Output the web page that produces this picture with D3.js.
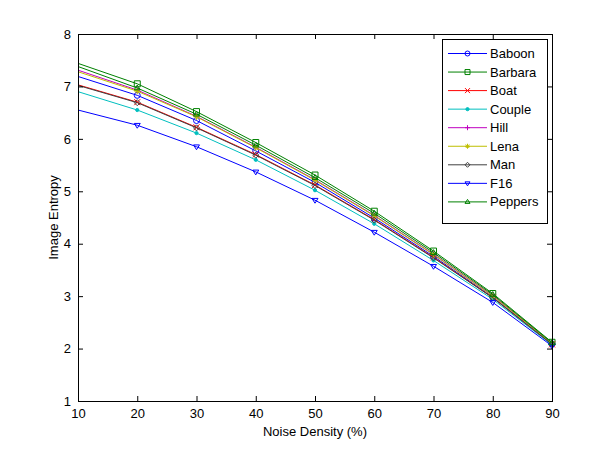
<!DOCTYPE html>
<html>
<head>
<meta charset="utf-8">
<script src="https://cdn.jsdelivr.net/npm/d3@7"></script>
<style>
  html, body { margin: 0; padding: 0; background: #fff; }
  svg { display: block; }
  text { font-family: "Liberation Sans", Arial, Helvetica, sans-serif; fill: #000; }
</style>
</head>
<body>
<svg id="chart" width="609" height="450"></svg>
<script>
// ---- data ----
const noiseDensity = [10, 20, 30, 40, 50, 60, 70, 80, 90];
const seriesNames = ["Baboon", "Barbara", "Boat", "Couple", "Hill", "Lena", "Man", "F16", "Peppers"];
const baboon  = [7.19, 6.83, 6.35, 5.77, 5.17, 4.49, 3.76, 2.98, 2.09];
const barbara = [7.44, 7.05, 6.52, 5.93, 5.31, 4.62, 3.86, 3.05, 2.12];
const boat    = [7.03, 6.70, 6.22, 5.70, 5.12, 4.46, 3.74, 2.97, 2.08];
const couple  = [6.90, 6.55, 6.11, 5.60, 5.02, 4.38, 3.68, 2.94, 2.07];
const hill    = [7.31, 6.93, 6.43, 5.84, 5.22, 4.54, 3.80, 3.01, 2.10];
const lena    = [7.28, 6.91, 6.42, 5.83, 5.21, 4.53, 3.79, 3.00, 2.10];
const man     = [7.02, 6.69, 6.21, 5.69, 5.11, 4.45, 3.73, 2.97, 2.08];
const f16     = [6.55, 6.26, 5.85, 5.37, 4.83, 4.22, 3.57, 2.88, 2.05];
const peppers = [7.38, 6.97, 6.47, 5.88, 5.26, 4.58, 3.83, 3.03, 2.11];
const xTicks = [10, 20, 30, 40, 50, 60, 70, 80, 90];
const yTicks = [1, 2, 3, 4, 5, 6, 7, 8];

const seriesValues = [baboon, barbara, boat, couple, hill, lena, man, f16, peppers];
const seriesColors = ["#0000ff", "#008000", "#ff0000", "#00bfbf", "#bf00bf", "#bfbf00", "#404040", "#0000ff", "#008000"];
const seriesMarkers = ["o", "s", "x", ".", "+", "*", "d", "v", "^"];

// ---- layout ----
const svg = d3.select("#chart");
const L = 78, R = 552, T = 34, B = 401;
const x = d3.scaleLinear().domain([10, 90]).range([L, R]);
const y = d3.scaleLinear().domain([1, 8]).range([B, T]);

// marker path generator (MATLAB-like, unfilled)
function markerPath(type, s) {
  const h = s / 2;
  switch (type) {
    case "o": return `M${h},0A${h},${h} 0 1,1 ${-h},0A${h},${h} 0 1,1 ${h},0Z`;
    case "s": return `M${-h},${-h}H${h}V${h}H${-h}Z`;
    case "x": return `M${-h},${-h}L${h},${h}M${-h},${h}L${h},${-h}`;
    case "+": return `M${-h},0H${h}M0,${-h}V${h}`;
    case "*": return `M${-h},0H${h}M0,${-h}V${h}M${-h*0.7},${-h*0.7}L${h*0.7},${h*0.7}M${-h*0.7},${h*0.7}L${h*0.7},${-h*0.7}`;
    case "d": return `M0,${-h}L${h},0L0,${h}L${-h},0Z`;
    case "v": return `M${-h},${-h*0.6}H${h}L0,${h}Z`;
    case "^": return `M${-h},${h*0.6}H${h}L0,${-h}Z`;
    case ".": return `M1.6,0A1.6,1.6 0 1,1 -1.6,0A1.6,1.6 0 1,1 1.6,0Z`;
  }
  return "";
}

// ---- axes box ----
svg.append("rect").attr("x", L).attr("y", T).attr("width", R - L).attr("height", B - T)
  .attr("fill", "#fff").attr("stroke", "none");

// ---- series ----
const line = d3.line().x((d, i) => x(noiseDensity[i])).y(d => y(d));
const gSeries = svg.append("g");
seriesValues.forEach((vals, k) => {
  const g = gSeries.append("g");
  g.append("path").attr("d", line(vals)).attr("fill", "none")
    .attr("stroke", seriesColors[k]).attr("stroke-width", 1);
  const pts = vals.map((d, i) => ({ v: d, xv: noiseDensity[i] })).slice(1);
  g.selectAll("path.m").data(pts).enter().append("path").attr("class", "m")
    .attr("transform", d => `translate(${x(d.xv)},${y(d.v)})`)
    .attr("d", markerPath(seriesMarkers[k], 6))
    .attr("fill", seriesMarkers[k] === "." ? seriesColors[k] : "none")
    .attr("stroke", seriesColors[k]).attr("stroke-width", 1);
});

// ---- axes (ticks inward, on all sides) ----
const tl = 5;
const axB = d3.axisBottom(x).tickValues(xTicks).tickSize(-tl).tickPadding(8).tickFormat(d3.format("d"));
const axT = d3.axisTop(x).tickValues(xTicks).tickSize(-tl).tickFormat("");
const axL = d3.axisLeft(y).tickValues(yTicks).tickSize(-tl).tickPadding(7).tickFormat(d3.format("d"));
const axR = d3.axisRight(y).tickValues(yTicks).tickSize(-tl).tickFormat("");

function styleAxis(g) {
  g.select(".domain").remove();
  g.selectAll(".tick line").attr("stroke", "#000").attr("stroke-width", 1);
  g.selectAll(".tick text").attr("font-size", 13).attr("font-family", "Liberation Sans, Arial, sans-serif").attr("fill", "#000");
}
svg.append("g").attr("transform", `translate(0,${B})`).call(axB).call(styleAxis);
svg.append("g").attr("transform", `translate(0,${T})`).call(axT).call(styleAxis);
svg.append("g").attr("transform", `translate(${L},0)`).call(axL).call(styleAxis);
svg.append("g").attr("transform", `translate(${R},0)`).call(axR).call(styleAxis);

svg.append("rect").attr("x", L + 0.5).attr("y", T + 0.5).attr("width", R - L).attr("height", B - T)
  .attr("fill", "none").attr("stroke", "#000").attr("stroke-width", 1);

// ---- axis labels ----
svg.append("text").attr("x", (L + R) / 2).attr("y", 436).attr("text-anchor", "middle")
  .attr("font-size", 13).text("Noise Density (%)");
svg.append("text").attr("transform", `translate(58,${(T + B) / 2}) rotate(-90)`)
  .attr("text-anchor", "middle").attr("font-size", 13).text("Image Entropy");

// ---- legend ----
const lgX = 442, lgY = 39, lgW = 105, lgH = 184, rowH = 18.55, firstRow = 53.5;
const lg = svg.append("g");
lg.append("rect").attr("x", lgX + 0.5).attr("y", lgY + 0.5).attr("width", lgW).attr("height", lgH)
  .attr("fill", "#fff").attr("stroke", "#000").attr("stroke-width", 1);
seriesNames.forEach((name, k) => {
  const yy = firstRow + k * rowH;
  lg.append("line").attr("x1", 448).attr("x2", 487).attr("y1", yy).attr("y2", yy)
    .attr("stroke", seriesColors[k]).attr("stroke-width", 1);
  lg.append("path").attr("transform", `translate(467.5,${yy})`)
    .attr("d", markerPath(seriesMarkers[k], 5))
    .attr("fill", seriesMarkers[k] === "." ? seriesColors[k] : "none")
    .attr("stroke", seriesColors[k]).attr("stroke-width", 1);
  lg.append("text").attr("x", 490).attr("y", yy + 4.5).attr("font-size", 13).text(name);
});
</script>
</body>
</html>
